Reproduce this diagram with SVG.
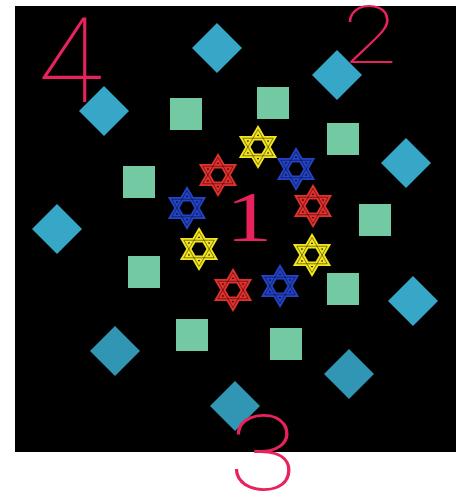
<svg xmlns="http://www.w3.org/2000/svg" xmlns:xlink="http://www.w3.org/1999/xlink" width="459" height="495" viewBox="0 0 459 495">
<style>
.dia{fill:#36a7c7}
.dia2{fill:#3196b3}
.sq{fill:#72c9a2}
.num{fill:#e8225c;font-family:Roboto,"DejaVu Sans",sans-serif;font-weight:100;text-anchor:middle}
.one{fill:#e8225c;font-family:"Liberation Serif",serif;text-anchor:middle}
</style>
<defs>
<g id="star">
<path d="M0,-17.5 L15.16,8.75 L-15.16,8.75 Z M0,17.5 L15.16,-8.75 L-15.16,-8.75 Z" fill="none" stroke="currentColor" stroke-width="4.6" stroke-linejoin="miter"/>
<path d="M0,-17.5 L15.16,8.75 L-15.16,8.75 Z M0,17.5 L15.16,-8.75 L-15.16,-8.75 Z" fill="none" stroke="#000" stroke-opacity="0.45" stroke-width="1"/>
</g>
</defs>
<rect x="0" y="0" width="459" height="495" fill="#fff"/>
<rect x="15" y="6" width="441" height="446" fill="#000"/>
<g id="connectors"/>
<g id="d1"><polygon class="dia" points="217,23 242,48 217,73 192,48"/></g>
<g id="d2"><polygon class="dia" points="337,50 362,75 337,100 312,75"/></g>
<g id="d3"><polygon class="dia" points="104,86 129,111 104,136 79,111"/></g>
<g id="d4"><polygon class="dia" points="406,138 431,163 406,188 381,163"/></g>
<g id="d5"><polygon class="dia" points="57,204 82,229 57,254 32,229"/></g>
<g id="d6"><polygon class="dia" points="413,276 438,301 413,326 388,301"/></g>
<g id="d7"><polygon class="dia2" points="115,326 140,351 115,376 90,351"/></g>
<g id="d8"><polygon class="dia2" points="349,349 374,374 349,399 324,374"/></g>
<g id="d9"><polygon class="dia2" points="235,381 260,406 235,431 210,406"/></g>
<g id="s1"><rect class="sq" x="170" y="98" width="32" height="32"/></g>
<g id="s2"><rect class="sq" x="257" y="87" width="32" height="32"/></g>
<g id="s3"><rect class="sq" x="327" y="123" width="32" height="32"/></g>
<g id="s4"><rect class="sq" x="123" y="166" width="32" height="32"/></g>
<g id="s5"><rect class="sq" x="359" y="204" width="32" height="32"/></g>
<g id="s6"><rect class="sq" x="128" y="256" width="32" height="32"/></g>
<g id="s7"><rect class="sq" x="327" y="273" width="32" height="32"/></g>
<g id="s8"><rect class="sq" x="176" y="319" width="32" height="32"/></g>
<g id="s9"><rect class="sq" x="270" y="328" width="32" height="32"/></g>
<g id="y1"><use xlink:href="#star" x="258" y="147" color="#f2e41e"/></g>
<g id="r1"><use xlink:href="#star" x="218" y="175" color="#e2302e"/></g>
<g id="b1"><use xlink:href="#star" x="296" y="169" color="#2343c8"/></g>
<g id="b2"><use xlink:href="#star" x="187" y="208" color="#2343c8"/></g>
<g id="r2"><use xlink:href="#star" x="313" y="206" color="#e2302e"/></g>
<g id="y2"><use xlink:href="#star" x="199" y="249" color="#f2e41e"/></g>
<g id="y3"><use xlink:href="#star" x="312" y="255" color="#f2e41e"/></g>
<g id="r3"><use xlink:href="#star" x="233" y="290" color="#e2302e"/></g>
<g id="b3"><use xlink:href="#star" x="280" y="286" color="#2343c8"/></g>
<g id="n4"><text class="num" x="70" y="102" font-size="118">4</text></g>
<g id="n2"><text class="num" transform="translate(370,63) scale(1.25,1)" font-size="79">2</text></g>
<g id="n3"><text class="num" transform="translate(263,490) scale(1.2,1)" font-size="105">3</text></g>
<g id="n1"><text class="one" transform="translate(249,241) scale(1.3,1)" font-size="71">1</text></g>
</svg>
